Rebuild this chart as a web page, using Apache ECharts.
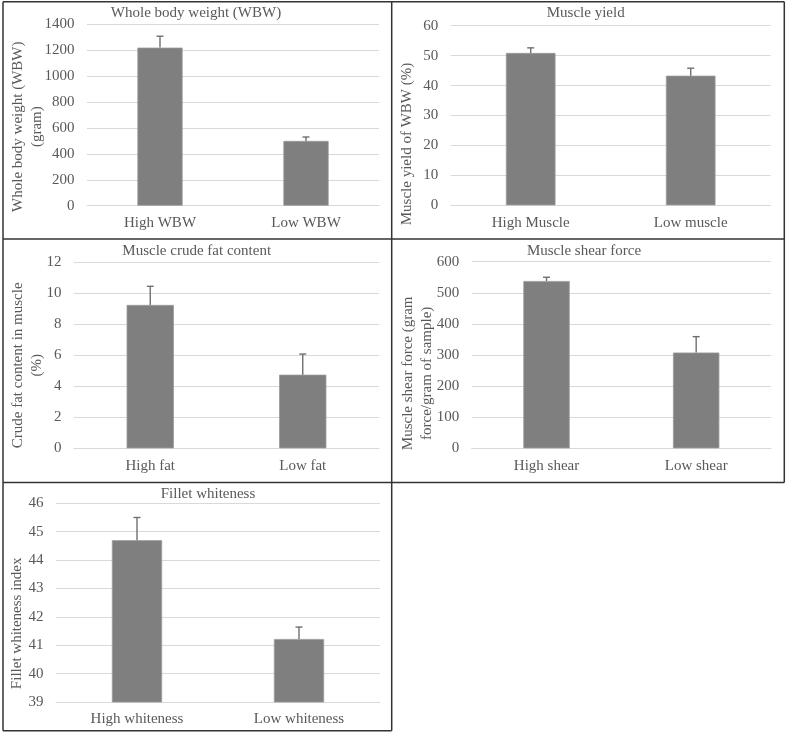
<!DOCTYPE html>
<html>
<head>
<meta charset="utf-8">
<script src="https://cdn.jsdelivr.net/npm/echarts@6/dist/echarts.min.js"></script>
<style>html,body{margin:0;padding:0;background:#fff}#c{width:787px;height:733px}</style>
</head>
<body>
<div id="c"></div>
<script>
// ---- data ----
var wbwCats = ['High WBW', 'Low WBW'];
var wbwMean = [1220, 500];
var wbwErr = [88, 30];
var wbwTicks = [0, 1400, 200];

var yieldCats = ['High Muscle', 'Low muscle'];
var yieldMean = [50.9, 43.3];
var yieldErr = [1.7, 2.5];
var yieldTicks = [0, 60, 10];

var fatCats = ['High fat', 'Low fat'];
var fatMean = [9.25, 4.75];
var fatErr = [1.2, 1.33];
var fatTicks = [0, 12, 2];

var shearCats = ['High shear', 'Low shear'];
var shearMean = [538, 308];
var shearErr = [12, 51];
var shearTicks = [0, 600, 100];

var whiteCats = ['High whiteness', 'Low whiteness'];
var whiteMean = [44.7, 41.22];
var whiteErr = [0.8, 0.42];
var whiteTicks = [39, 46, 1];

var titles = ['Whole body weight (WBW)', 'Muscle yield', 'Muscle crude fat content', 'Muscle shear force', 'Fillet whiteness'];
var yNames = ['Whole body weight (WBW)\n(gram)', 'Muscle yield of WBW (%)', 'Crude fat content in muscle\n(%)', 'Muscle shear force (gram\nforce/gram of sample)', 'Fillet whiteness index'];

// ---- layout ----
var FONT = '"Liberation Serif", "Times New Roman", serif';
var TXT = '#595959';
var FS = 15;
var panels = [
  {cats: wbwCats, mean: wbwMean, err: wbwErr, ticks: wbwTicks, grid: {left: 87, top: 24.3, width: 292, height: 181.4}, title: [196, 13.5], yname: [27.5, 126.7]},
  {cats: yieldCats, mean: yieldMean, err: yieldErr, ticks: yieldTicks, grid: {left: 450.7, top: 25.7, width: 320, height: 179.6}, title: [585.7, 13.5], yname: [407, 144]},
  {cats: fatCats, mean: fatMean, err: fatErr, ticks: fatTicks, grid: {left: 74, top: 262.3, width: 305, height: 186}, title: [196.7, 251], yname: [27.3, 365.3]},
  {cats: shearCats, mean: shearMean, err: shearErr, ticks: shearTicks, grid: {left: 471.7, top: 261.7, width: 299.3, height: 186.6}, title: [584, 251], yname: [417.8, 373.3]},
  {cats: whiteCats, mean: whiteMean, err: whiteErr, ticks: whiteTicks, grid: {left: 56, top: 503.3, width: 324, height: 198.7}, title: [208, 494.3], yname: [17.3, 623.3]}
];

var grids = [], xAxes = [], yAxes = [], series = [], graphics = [];
panels.forEach(function (p, i) {
  grids.push(p.grid);
  xAxes.push({
    type: 'category', gridIndex: i, data: p.cats,
    axisLine: {lineStyle: {color: '#d9d9d9', width: 1}},
    axisTick: {show: false},
    axisLabel: {color: TXT, fontFamily: FONT, fontSize: FS, margin: 10}
  });
  yAxes.push({
    type: 'value', gridIndex: i, min: p.ticks[0], max: p.ticks[1], interval: p.ticks[2],
    axisLine: {show: false}, axisTick: {show: false},
    splitLine: {lineStyle: {color: '#d9d9d9', width: 1}},
    axisLabel: {color: TXT, fontFamily: FONT, fontSize: FS, margin: 12.5,
      formatter: function (v) { return String(v); }}
  });
  series.push({
    type: 'bar', xAxisIndex: i, yAxisIndex: i, data: p.mean, barWidth: '31%',
    itemStyle: {color: '#7f7f7f', borderColor: '#9a9a9a', borderWidth: 0.8},
    silent: true, animation: false
  });
  var errData = p.mean.map(function (m, k) { return [k, m, m + p.err[k]]; });
  series.push({
    type: 'custom', xAxisIndex: i, yAxisIndex: i, data: errData, z: 5, animation: false, silent: true,
    renderItem: function (params, api) {
      var a = api.coord([api.value(0), api.value(1)]);
      var b = api.coord([api.value(0), api.value(2)]);
      var st = {stroke: '#6f6f6f', lineWidth: 1.4};
      return {type: 'group', children: [
        {type: 'line', shape: {x1: a[0], y1: a[1], x2: b[0], y2: b[1]}, style: st},
        {type: 'line', shape: {x1: b[0] - 3.5, y1: b[1], x2: b[0] + 3.5, y2: b[1]}, style: st}
      ]};
    }
  });
  graphics.push({
    type: 'text', x: p.title[0], y: p.title[1], silent: true,
    style: {text: titles[i], fill: TXT, font: FS + 'px ' + FONT, textAlign: 'center', textVerticalAlign: 'middle'}
  });
  graphics.push({
    type: 'text', x: p.yname[0], y: p.yname[1], rotation: Math.PI / 2, silent: true,
    style: {text: yNames[i], fill: TXT, font: FS + 'px ' + FONT, textAlign: 'center', textVerticalAlign: 'middle', lineHeight: 19}
  });
});

// panel borders
var B = {stroke: '#333', lineWidth: 1.5};
function ln(x1, y1, x2, y2) { graphics.push({type: 'line', silent: true, shape: {x1: x1, y1: y1, x2: x2, y2: y2}, style: B}); }
ln(3, 1.7, 784.3, 1.7);
ln(3, 239, 784.3, 239);
ln(3, 482.5, 784.3, 482.5);
ln(3, 730.7, 391.7, 730.7);
ln(3, 1.7, 3, 730.7);
ln(391.7, 1.7, 391.7, 730.7);
ln(784.3, 1.7, 784.3, 482.5);

var chart = echarts.init(document.getElementById('c'), null, {renderer: 'canvas'});
chart.setOption({
  animation: false,
  backgroundColor: '#fff',
  grid: grids, xAxis: xAxes, yAxis: yAxes, series: series, graphic: graphics
});
</script>
</body>
</html>
